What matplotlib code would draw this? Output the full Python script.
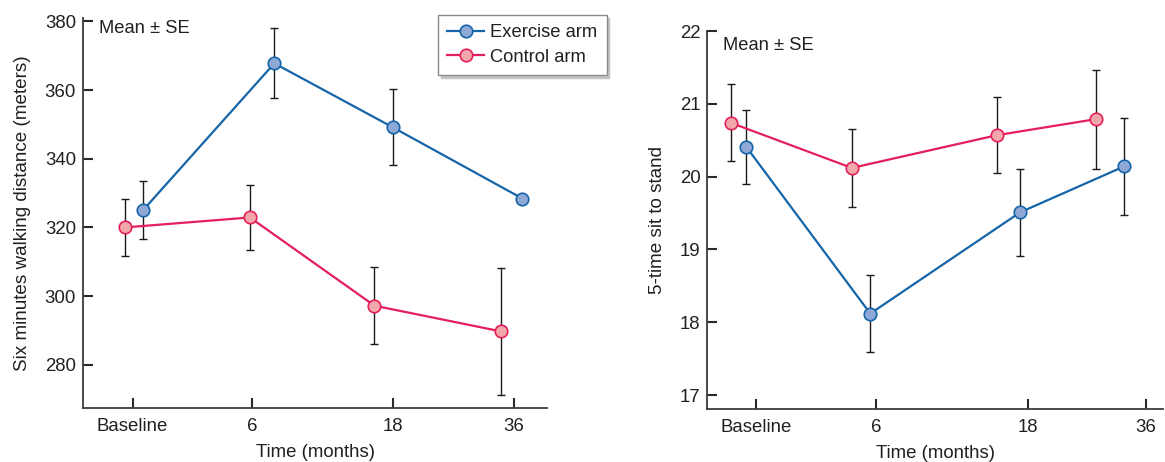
import matplotlib.pyplot as plt

plt.rcParams['font.family'] = ['Liberation Sans', 'DejaVu Sans']

tick_labels = ['Baseline', '6', '18', '36']

# left panel: six minutes walking distance
left_ticks = [0, 0.941, 2.05, 3]
left_ex_x = [0.082, 1.115, 2.045, 3.067]
left_ex_y = [325, 367.8, 349.2, 328.4]
left_ex_se = [8.5, 10.2, 11.1, 0]
left_co_x = [-0.06, 0.923, 1.903, 2.90]
left_co_y = [320.0, 322.9, 297.2, 289.7]
left_co_se = [8.2, 9.6, 11.2, 18.4]

# right panel: 5-time sit to stand
right_ticks = [0, 0.921, 2.092, 3]
right_ex_x = [-0.075, 0.879, 2.031, 2.83]
right_ex_y = [20.41, 18.12, 19.51, 20.14]
right_ex_se = [0.51, 0.53, 0.6, 0.67]
right_co_x = [-0.194, 0.737, 1.854, 2.615]
right_co_y = [20.74, 20.12, 20.57, 20.79]
right_co_se = [0.53, 0.53, 0.52, 0.68]

blue = '#1565a8'
blue_face = '#8fa8d6'
pink = '#e41f5b'
pink_face = '#f2a7ab'
txt = '#231f20'
axc = '#3c3c3c'

fig = plt.figure(figsize=(11.65, 4.62), dpi=100)
ax1 = fig.add_axes([83/1165, 1-408/462, (547-83)/1165, (408-18)/462])
ax2 = fig.add_axes([707.5/1165, 1-409/462, (1163-707.5)/1165, (409-31)/462])


def draw(ax, ex_x, ex_y, ex_se, co_x, co_y, co_se, ty):
    ax.errorbar(ex_x, ex_y, yerr=ex_se, fmt='none', ecolor='#1a1a1a',
                elinewidth=1.0, capsize=2.6, capthick=1.0, zorder=2)
    ax.errorbar(co_x, co_y, yerr=co_se, fmt='none', ecolor='#1a1a1a',
                elinewidth=1.0, capsize=2.6, capthick=1.0, zorder=2)
    h1, = ax.plot(ex_x, ex_y, '-o', color=blue, lw=1.6, ms=9,
                  mfc=blue_face, mec=blue, mew=1.2, zorder=3, label='Exercise arm')
    h2, = ax.plot(co_x, co_y, '-o', color=pink, lw=1.6, ms=9,
                  mfc=pink_face, mec=pink, mew=1.2, zorder=3, label='Control arm')
    for s in ['top', 'right']:
        ax.spines[s].set_visible(False)
    for s in ['left', 'bottom']:
        ax.spines[s].set_color(axc)
        ax.spines[s].set_linewidth(1.3)
    ax.tick_params(direction='in', length=7, width=1.5, color='#2a2a2a',
                   labelsize=13.4, labelcolor=txt)
    ax.tick_params(axis='y', pad=5)
    ax.tick_params(axis='x', pad=7)
    ax.text(0.035, ty, 'Mean ± SE', transform=ax.transAxes, ha='left', va='top',
            fontsize=13.2, color=txt)
    ax.set_xlabel('Time (months)', fontsize=13.4, color=txt, labelpad=7)
    return h1, h2


h1, h2 = draw(ax1, left_ex_x, left_ex_y, left_ex_se, left_co_x, left_co_y, left_co_se, 0.995)
ax1.set_xlim(-0.39, 3.26)
ax1.set_ylim(267.4, 381)
ax1.set_yticks([280, 300, 320, 340, 360, 380])
ax1.set_xticks(left_ticks)
ax1.set_xticklabels(tick_labels)
ax1.set_ylabel('Six minutes walking distance (meters)', fontsize=13.6, color=txt, labelpad=10)

draw(ax2, right_ex_x, right_ex_y, right_ex_se, right_co_x, right_co_y, right_co_se, 0.985)
ax2.set_xlim(-0.373, 3.13)
ax2.set_ylim(16.81, 22)
ax2.set_yticks([17, 18, 19, 20, 21, 22])
ax2.set_xticks(right_ticks)
ax2.set_xticklabels(tick_labels)
ax2.set_ylabel('5-time sit to stand', fontsize=13.6, color=txt, labelpad=10)

leg = fig.legend([h1, h2], ['Exercise arm', 'Control arm'], loc='upper left',
                 bbox_to_anchor=(438/1165, 1-15/462), borderaxespad=0,
                 fontsize=13.2, fancybox=False, framealpha=1,
                 shadow={'color': '#c4c4c4', 'alpha': 1},
                 edgecolor='#8a8a8a', handlelength=2.0, handletextpad=0.35,
                 borderpad=0.5, labelspacing=0.42)
for t in leg.get_texts():
    t.set_color(txt)

plt.savefig('out.png', dpi=100)
